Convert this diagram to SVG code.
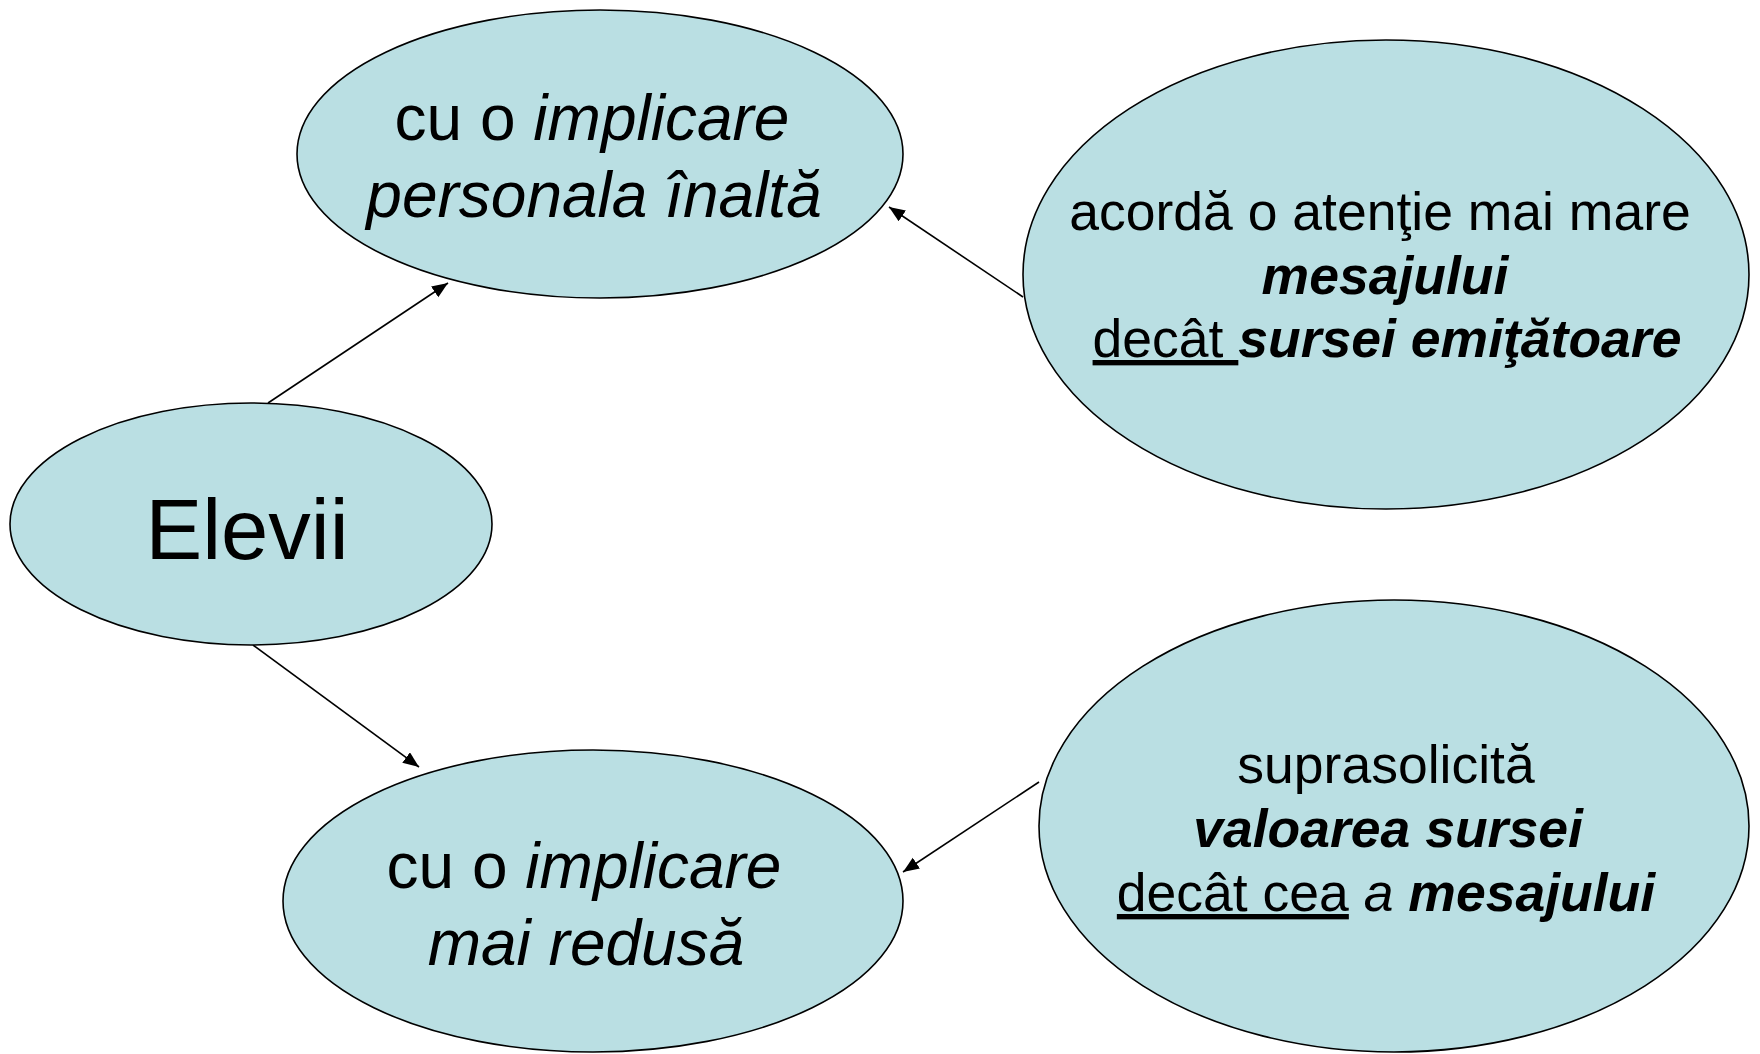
<svg xmlns="http://www.w3.org/2000/svg" width="1760" height="1054" viewBox="0 0 1760 1054">
<style>
.node{fill:#BADFE3;stroke:#000;stroke-width:1.6}
.t{font-family:"Liberation Sans",Arial,sans-serif;fill:#000;text-anchor:middle}
.i{font-style:italic}
.bi{font-style:italic;font-weight:bold}
.u{text-decoration:underline}
.edge{stroke:#000;stroke-width:1.6;fill:none;marker-end:url(#arr)}
</style>
<defs>
<marker id="arr" markerUnits="userSpaceOnUse" markerWidth="18" markerHeight="14" refX="16" refY="6.5" orient="auto">
<path d="M0,0 L16,6.5 L0,13 z" fill="#000"/>
</marker>
</defs>
<rect width="1760" height="1054" fill="#fff"/>
<g id="connectors">
<line class="edge" x1="268" y1="403" x2="448" y2="283"/>
<line class="edge" x1="1023" y1="297" x2="889" y2="207"/>
<line class="edge" x1="253" y1="645" x2="419" y2="767"/>
<line class="edge" x1="1039" y1="782" x2="903" y2="872"/>
</g>
<g id="node-top">
<ellipse class="node" cx="600" cy="154" rx="303" ry="144"/>
<text class="t" font-size="64" x="592" y="140">cu o <tspan class="i">implicare</tspan></text>
<text class="t i" font-size="64" x="594" y="217">personala înaltă</text>
</g>
<g id="node-elevii">
<ellipse class="node" cx="251" cy="524" rx="241" ry="121"/>
<text class="t" font-size="85" x="247" y="559">Elevii</text>
</g>
<g id="node-bottom">
<ellipse class="node" cx="593" cy="901" rx="310" ry="151"/>
<text class="t" font-size="64" x="584" y="888">cu o <tspan class="i">implicare</tspan></text>
<text class="t i" font-size="64" x="586" y="965">mai redusă</text>
</g>
<g id="node-right-top">
<ellipse class="node" cx="1386" cy="274.5" rx="363" ry="234.5"/>
<text class="t" font-size="53.5" x="1380" y="230">acordă o atenţie mai mare</text>
<text class="t bi" font-size="53.5" x="1385" y="293.5">mesajului</text>
<text class="t" font-size="53.5" x="1387" y="357"><tspan class="u">decât </tspan><tspan class="bi">sursei emiţătoare</tspan></text>
</g>
<g id="node-right-bottom">
<ellipse class="node" cx="1394" cy="826" rx="355" ry="226"/>
<text class="t" font-size="53.5" x="1386" y="783">suprasolicită</text>
<text class="t bi" font-size="53.5" x="1388" y="847">valoarea sursei</text>
<text class="t" font-size="53.5" x="1386" y="911"><tspan class="u">decât cea</tspan> <tspan class="i">a</tspan> <tspan class="bi">mesajului</tspan></text>
</g>
</svg>
